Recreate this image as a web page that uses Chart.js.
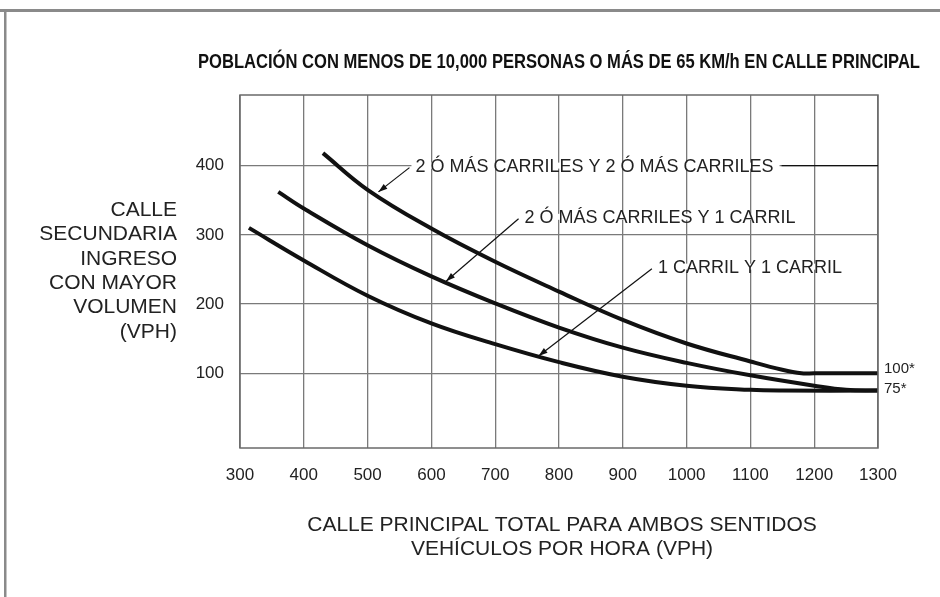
<!DOCTYPE html>
<html>
<head>
<meta charset="utf-8">
<title>Población con menos de 10,000 personas</title>
<script src="https://cdn.jsdelivr.net/npm/chart.js"></script>
<style>
  html, body { margin: 0; padding: 0; background: #fff; }
  #wrap { width: 940px; height: 597px; }
</style>
</head>
<body>
<div id="wrap"><canvas id="chart" width="940" height="597"></canvas></div>
<script>
// --- data ---
const xTicks = [300, 400, 500, 600, 700, 800, 900, 1000, 1100, 1200, 1300];
const yTicks = [100, 200, 300, 400];

// 2 o mas carriles y 2 o mas carriles
const topX = [430, 500, 600, 700, 800, 900, 1000, 1100, 1150, 1180, 1200, 1300];
const topY = [418, 365, 309, 261, 218, 177, 143, 117, 105, 100, 100, 100];
// 2 o mas carriles y 1 carril
const midX = [360, 400, 500, 600, 700, 800, 900, 1000, 1100, 1200, 1250, 1300];
const midY = [362, 338, 285, 240, 201, 166, 137, 115, 97, 82, 76, 75];
// 1 carril y 1 carril
const lowX = [314, 400, 500, 600, 700, 800, 900, 1000, 1100, 1150, 1300];
const lowY = [310, 263, 212, 172, 142, 116, 95, 82, 76, 75, 75];

const seriesNames = ['2 Ó MÁS CARRILES Y 2 Ó MÁS CARRILES', '2 Ó MÁS CARRILES Y 1 CARRIL', '1 CARRIL Y 1 CARRIL'];
// label anchor (text start) and arrow tip, in data units
const labelX = [575, 746, 955];
const labelY = [400, 326, 254];
const tipX = [517, 623, 768];
const tipY = [362, 233, 125];
const tailEndX = 1300; // first label has a line running to the right edge

const endValues = [100, 75];
const endLabels = ['100*', '75*'];

const title = 'POBLACIÓN CON MENOS DE 10,000 PERSONAS O MÁS DE 65 KM/h EN CALLE PRINCIPAL';
const yTitle = ['CALLE', 'SECUNDARIA', 'INGRESO', 'CON MAYOR', 'VOLUMEN', '(VPH)'];
const xTitle = ['CALLE PRINCIPAL TOTAL PARA AMBOS SENTIDOS', 'VEHÍCULOS POR HORA (VPH)'];

const FONT = '"Liberation Sans", Arial, sans-serif';
const INK = '#111';
const GRID = '#7a7a7a';

function pts(xs, ys) { return xs.map((x, i) => ({ x: x, y: ys[i] })); }

function arrow(ctx, x0, y0, x1, y1) {
    ctx.beginPath();
    ctx.moveTo(x0, y0);
    ctx.lineTo(x1, y1);
    ctx.stroke();
    const a = Math.atan2(y1 - y0, x1 - x0);
    const len = 9, half = 3;
    ctx.beginPath();
    ctx.moveTo(x1, y1);
    ctx.lineTo(x1 - len * Math.cos(a) + half * Math.sin(a), y1 - len * Math.sin(a) - half * Math.cos(a));
    ctx.lineTo(x1 - len * Math.cos(a) - half * Math.sin(a), y1 - len * Math.sin(a) + half * Math.cos(a));
    ctx.closePath();
    ctx.fill();
}

const decor = {
    id: 'decor',
    beforeDraw(chart) {
        const ctx = chart.ctx;
        ctx.save();
        ctx.fillStyle = '#fff';
        ctx.fillRect(0, 0, chart.width, chart.height);
        // page frame
        ctx.fillStyle = '#8a8a8a';
        ctx.fillRect(0, 9, chart.width, 3);
        ctx.fillRect(4, 9, 2.5, chart.height - 9);
        ctx.restore();
    },
    afterDatasetsDraw(chart) {
        const ctx = chart.ctx;
        const a = chart.chartArea;
        const xs = chart.scales.x, ys = chart.scales.y;
        ctx.save();
        // plot box
        ctx.strokeStyle = '#6a6a6a';
        ctx.lineWidth = 1.5;
        ctx.strokeRect(a.left, a.top, a.right - a.left, a.bottom - a.top);

        // title, condensed to the width it has in the original
        ctx.fillStyle = '#111';
        ctx.textBaseline = 'middle';
        ctx.textAlign = 'center';
        ctx.font = 'bold 21px ' + FONT;
        const tw = ctx.measureText(title).width;
        ctx.save();
        ctx.translate(559, 62);
        ctx.scale(Math.min(1, 722 / tw), 1);
        ctx.fillText(title, 0, 0);
        ctx.restore();

        // y title
        ctx.font = '21px ' + FONT;
        ctx.fillStyle = '#222';
        ctx.textAlign = 'right';
        yTitle.forEach((t, i) => ctx.fillText(t, a.left - 63, 210 + i * 24.4));

        // x title
        ctx.textAlign = 'center';
        xTitle.forEach((t, i) => ctx.fillText(t, (a.left + a.right) / 2 + 3, 525 + i * 24.5));

        // series labels with leader arrows
        ctx.font = '18px ' + FONT;
        ctx.textAlign = 'left';
        ctx.strokeStyle = INK;
        ctx.fillStyle = INK;
        ctx.lineWidth = 1.2;
        seriesNames.forEach((t, i) => {
            const lx = xs.getPixelForValue(labelX[i]);
            const ly = ys.getPixelForValue(labelY[i]);
            const w = ctx.measureText(t).width;
            ctx.fillStyle = '#fff';
            ctx.fillRect(lx - 4, ly - 3, w + 10, 6);
            ctx.fillStyle = '#222';
            ctx.fillText(t, lx, ly + 1);
            ctx.fillStyle = INK;
            arrow(ctx, lx - 6, ly + 2, xs.getPixelForValue(tipX[i]), ys.getPixelForValue(tipY[i]));
            if (i === 0) {
                ctx.beginPath();
                ctx.moveTo(lx + w + 8, ly);
                ctx.lineTo(xs.getPixelForValue(tailEndX), ly);
                ctx.stroke();
            }
        });

        // end labels
        ctx.font = '15px ' + FONT;
        ctx.fillStyle = '#222';
        endValues.forEach((v, i) => {
            ctx.fillText(endLabels[i], a.right + 6, ys.getPixelForValue(v) - 4 + i * 2);
        });
        ctx.restore();
    }
};

const lineStyle = {
    borderColor: INK,
    borderWidth: 4,
    pointRadius: 0,
    fill: false,
    tension: 0.4
};

new Chart(document.getElementById('chart'), {
    type: 'line',
    data: {
        datasets: [
            Object.assign({ label: seriesNames[0], data: pts(topX, topY) }, lineStyle),
            Object.assign({ label: seriesNames[1], data: pts(midX, midY) }, lineStyle),
            Object.assign({ label: seriesNames[2], data: pts(lowX, lowY) }, lineStyle)
        ]
    },
    options: {
        responsive: false,
        animation: false,
        layout: { padding: { left: 180, right: 62, top: 95, bottom: 99 } },
        plugins: {
            legend: { display: false },
            tooltip: { enabled: false }
        },
        scales: {
            x: {
                type: 'linear',
                min: 300,
                max: 1300,
                afterBuildTicks: s => { s.ticks = xTicks.map(v => ({ value: v })); },
                afterFit: s => { s.height = 50; },
                grid: { color: GRID, lineWidth: 1.3, drawTicks: false },
                border: { display: false },
                ticks: {
                    autoSkip: false,
                    maxRotation: 0,
                    padding: 17,
                    color: '#222',
                    font: { family: FONT, size: 17 },
                    callback: v => String(v)
                }
            },
            y: {
                type: 'linear',
                min: -8,
                max: 502,
                afterBuildTicks: s => { s.ticks = yTicks.map(v => ({ value: v })); },
                afterFit: s => { s.width = 60; },
                grid: { color: GRID, lineWidth: 1.3, drawTicks: false },
                border: { display: false },
                ticks: {
                    padding: 16,
                    color: '#222',
                    font: { family: FONT, size: 17 },
                    callback: v => String(v)
                }
            }
        }
    },
    plugins: [decor]
});
</script>
</body>
</html>
